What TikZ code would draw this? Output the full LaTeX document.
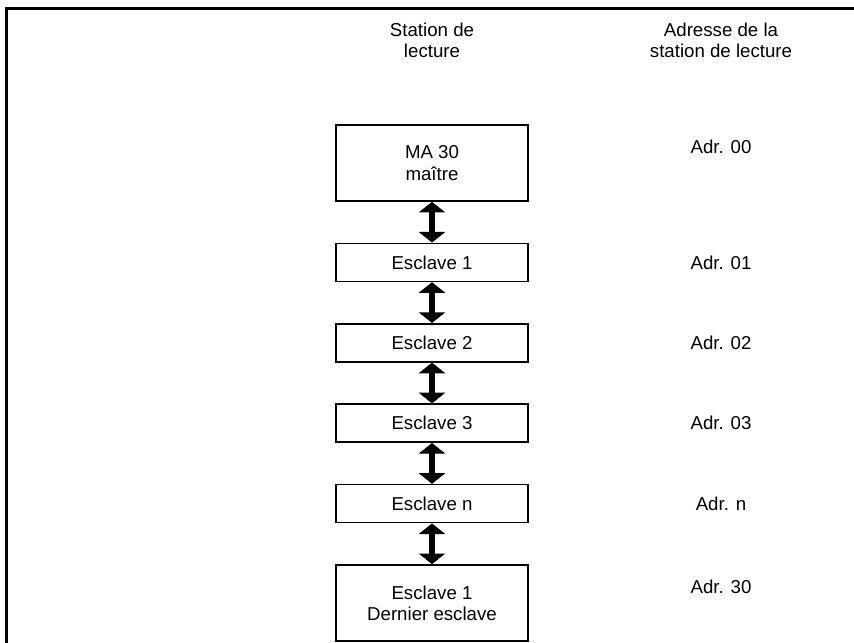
\documentclass[tikz,border=0pt]{standalone}
\usepackage{fontspec}
\setmainfont{Liberation Sans}
\usetikzlibrary{arrows.meta,positioning}
\tikzset{
    station/.style={rectangle, draw=black, line width=1.2pt, minimum width=144pt, minimum height=28.5pt, align=center, inner sep=2pt},
    stationtall/.style={station, minimum height=57pt},
    heading/.style={align=center},
    addr/.style={inner sep=1pt},
    link/.style={{Triangle[width=19.5pt,length=8pt]}-{Triangle[width=19.5pt,length=8pt]}, line width=4.8pt},
}

\begin{document}
\begin{tikzpicture}[x=0.75pt, y=-0.75pt, node distance=30.6pt,
    every node/.style={font=\fontsize{14}{16}\selectfont}]
    \useasboundingbox (0,0) rectangle (854,643);

    % Frame
    \draw[line width=2.25pt] (6,643) -- (6,8) -- (854,8);

    % Column headings
    \node[heading] (hstation) at (432,40) {Station de\\lecture};
    \node[heading] (haddr) at (721,40) {Adresse de la\\station de lecture};

    % Stations
    \node[stationtall] (master) at (432,163) {MA 30\\ma\^{\i}tre};
    \node[station, below=of master] (slave1) {Esclave 1};
    \node[station, below=of slave1] (slave2) {Esclave 2};
    \node[station, below=of slave2] (slave3) {Esclave 3};
    \node[station, below=of slave3] (slaven) {Esclave n};
    \node[stationtall, below=of slaven] (slavelast) {Esclave 1\\Dernier esclave};

    % Addresses
    \node[addr] (adr00) at (721,147) {Adr. 00};
    \node[addr] (adr01) at (slave1 -| adr00) {Adr. 01};
    \node[addr] (adr02) at (slave2 -| adr00) {Adr. 02};
    \node[addr] (adr03) at (slave3 -| adr00) {Adr. 03};
    \node[addr] (adrn) at (slaven -| adr00) {Adr. n};
    \node[addr] (adr30) at (721,587) {Adr. 30};

    % Links
    \draw[link] (master) -- (slave1);
    \draw[link] (slave1) -- (slave2);
    \draw[link] (slave2) -- (slave3);
    \draw[link] (slave3) -- (slaven);
    \draw[link] (slaven) -- (slavelast);
\end{tikzpicture}
\end{document}
